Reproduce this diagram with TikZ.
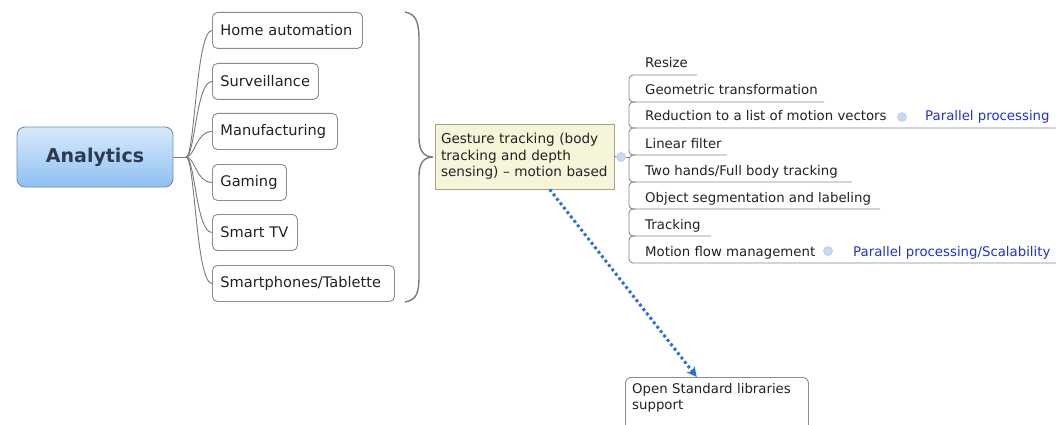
\documentclass[tikz,border=0pt]{standalone}
\usepackage{fontspec}
\setmainfont{DejaVu Sans}
\usetikzlibrary{arrows.meta,calc}
\definecolor{edge}{HTML}{7A7A7A}
\definecolor{boxline}{HTML}{8C8C8C}
\definecolor{anTop}{HTML}{D8EAFC}
\definecolor{anBot}{HTML}{8FC0F0}
\definecolor{anLine}{HTML}{7090B8}
\definecolor{anText}{HTML}{2E3A4E}
\definecolor{gestFill}{HTML}{F6F4D9}
\definecolor{gestLine}{HTML}{A3A28C}
\definecolor{linkBlue}{HTML}{2233CC}
\definecolor{dotBlue}{HTML}{2B6FD8}
\definecolor{bulletFill}{HTML}{C9DAF0}
\definecolor{bulletLine}{HTML}{A6C0E4}
\definecolor{txt}{HTML}{222222}
\definecolor{listline}{HTML}{8A8A8A}
\begin{document}
\begin{tikzpicture}[x=1pt,y=-1pt,
  catbox/.style={draw=boxline, line width=0.9pt, rounded corners=5pt, fill=white,
    anchor=north west, minimum height=36pt, inner xsep=8pt, inner ysep=0pt,
    text width=#1, align=left, font=\fontsize{14.6}{17}\selectfont, text=txt},
  itemtext/.style={anchor=base west, inner sep=0pt, font=\fontsize{13.3}{16}\selectfont, text=txt},
  linktext/.style={itemtext, text=linkBlue},
  bullet/.style={circle, draw=bulletLine, fill=bulletFill, minimum size=9pt, inner sep=0pt},
  conn/.style={draw=edge, line width=0.9pt},
  ulines/.style={draw=listline, line width=0.9pt, rounded corners=4pt}
]
\useasboundingbox (0,0) rectangle (1056,425);
\fill[white] (0,0) rectangle (1056,425);

% central node
\node[draw=anLine, line width=0.9pt, rounded corners=8pt, top color=anTop, bottom color=anBot,
  minimum width=156pt, minimum height=60pt, inner sep=0pt,
  font=\fontsize{19}{22}\bfseries, text=anText] (an) at (95,157) {Analytics};

% categories
\node[catbox=134pt] (c1) at (212,12)  {Home automation};
\node[catbox=90pt]  (c2) at (212,63)  {Surveillance};
\node[catbox=109pt] (c3) at (212,113) {Manufacturing};
\node[catbox=58pt]  (c4) at (212,164) {Gaming};
\node[catbox=69pt]  (c5) at (212,214) {Smart TV};
\node[catbox=166pt] (c6) at (212,265) {Smartphones/Tablette};

\coordinate (j) at (186,157);
\draw[conn] (an.east) -- (j);
\foreach \c in {c1,c2,c3,c4,c5,c6}
  \draw[conn] (j) .. controls +(9,0) and +(-16,0) .. (\c.west);

% brace
\draw[draw=edge, line width=1.4pt]
  (405,12) .. controls (416,14) and (419,22) .. (419,40) -- (419,138)
  .. controls (419,151) and (424,157) .. (433,157)
  .. controls (424,157) and (419,163) .. (419,176) -- (419,276)
  .. controls (419,294) and (416,300) .. (405,302);

% gesture node
\node[draw=gestLine, line width=0.9pt, fill=gestFill, minimum width=179pt, minimum height=65pt,
  inner xsep=6pt, text width=167pt, align=left, font=\fontsize{13.6}{16.5}\selectfont, text=txt]
  (g) at (524.5,156.5) {Gesture tracking (body\\tracking and depth\\sensing) -- motion based};

\node[bullet] (gb) at (621,157) {};
\draw[conn] (g.east) -- (gb.west);
\coordinate (gj) at (629,157);
\draw[conn] (gb.east) -- (gj);

% list structure
\draw[ulines] (697,75) -- (636,75) -- (629,75) -- (629,102) -- (824,102);
\draw[ulines] (636,102) -- (629,102) -- (629,128) -- (1056,128);
\draw[ulines] (636,128) -- (629,128) -- (629,155) -- (727,155);
\draw[ulines] (636,155) -- (629,155) -- (629,182) -- (852,182);
\draw[ulines] (636,182) -- (629,182) -- (629,209) -- (880,209);
\draw[ulines] (636,209) -- (629,209) -- (629,236) -- (711,236);
\draw[ulines] (636,236) -- (629,236) -- (629,263) -- (1056,263);

\node[itemtext] (i1) at (645,68)  {Resize};
\node[itemtext] (i2) at (645,95)  {Geometric transformation};
\node[itemtext] (i3) at (645,121) {Reduction to a list of motion vectors};
\node[itemtext] (i4) at (645,148) {Linear filter};
\node[itemtext] (i5) at (645,175) {Two hands/Full body tracking};
\node[itemtext] (i6) at (645,202) {Object segmentation and labeling};
\node[itemtext] (i7) at (645,229) {Tracking};
\node[itemtext] (i8) at (645,256) {Motion flow management};

\node[bullet] (b3) at (902,117) {};
\node[bullet] (b8) at (828,251) {};
\node[linktext] (p3) at (925,121) {Parallel processing};
\node[linktext] (p8) at (853,256) {Parallel processing/Scalability};

% open standard node
\node[draw=boxline, line width=0.9pt, rounded corners=6pt, fill=white, anchor=north west,
  minimum width=183pt, minimum height=70pt, inner sep=0pt] (os) at (625,377) {};
\node[anchor=north west, inner sep=0pt, text width=175pt, align=left,
  font=\fontsize{13.3}{16}\selectfont, text=txt] (ost) at (632,383)
  {Open Standard libraries\\support};

% dotted arrow
\draw[draw=dotBlue, line width=3pt, dash pattern=on 2.8pt off 2.8pt,
  -{Stealth[length=10pt,width=10pt,inset=3pt]}]
  ($(g.south west)!0.64!(g.south east)$) -- ($(os.north west)!0.39!(os.north east)$);
\end{tikzpicture}
\end{document}
